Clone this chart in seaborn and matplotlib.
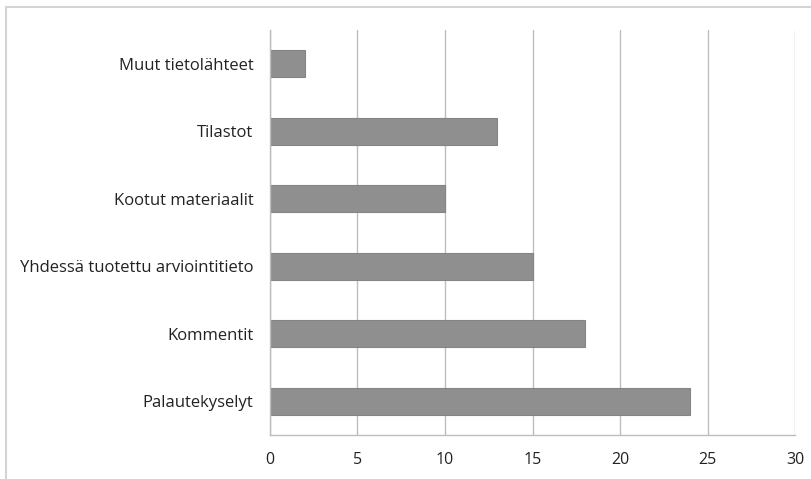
import matplotlib
matplotlib.use("Agg")
from matplotlib import pyplot as plt
from matplotlib.patches import Rectangle
import seaborn as sns
import pandas as pd

categories = ["Muut tietolähteet", "Tilastot", "Kootut materiaalit",
              "Yhdessä tuotettu arviointitieto", "Kommentit", "Palautekyselyt"]
values = [2, 13, 10, 15, 18, 24]
xticks = [0, 5, 10, 15, 20, 25, 30]

df = pd.DataFrame({"category": categories, "value": values})

sns.set_style("white")
plt.rcParams['font.family'] = ['Open Sans', 'DejaVu Sans']

fig = plt.figure(figsize=(8.12, 4.79), dpi=100)
ax = fig.add_axes([270 / 812, 1 - 435 / 479, 525 / 812, 405 / 479])

# light outer chart border
fig.patches.append(Rectangle((6 / 812, -0.05), 1.0, 1 - 7 / 479 + 0.05,
                             transform=fig.transFigure, fill=False,
                             edgecolor="#d4d4d4", linewidth=1.5))

sns.barplot(data=df, x="value", y="category", orient="h", color="#8f8f8f",
            edgecolor="#858585", linewidth=0.8, width=0.4, saturation=1, ax=ax)

ax.set_xlim(0, 30)
ax.set_ylim(len(categories) - 0.5, -0.5)
ax.set_xticks(xticks)
ax.set_xticklabels([str(t) for t in xticks], fontsize=11.5, color="#222222")
ax.grid(axis="x", color="#bdbdbd", linewidth=1)
ax.set_axisbelow(True)

ax.set_yticks(range(len(categories)))
ax.set_yticklabels(categories, fontsize=12, color="#222222")
ax.tick_params(axis="y", which="major", length=0, pad=12)
ax.set_yticks([i + 0.5 for i in range(-1, len(categories))], minor=True)
ax.tick_params(axis="y", which="minor", length=6, color="#bdbdbd", width=1)
ax.tick_params(axis="x", which="major", length=6, color="#bdbdbd", width=1, pad=6)

for side in ["top", "right"]:
    ax.spines[side].set_visible(False)
for side in ["left", "bottom"]:
    ax.spines[side].set_color("#bdbdbd")
    ax.spines[side].set_linewidth(1)

ax.set_xlabel("")
ax.set_ylabel("")

plt.savefig("out.png", dpi=100)
